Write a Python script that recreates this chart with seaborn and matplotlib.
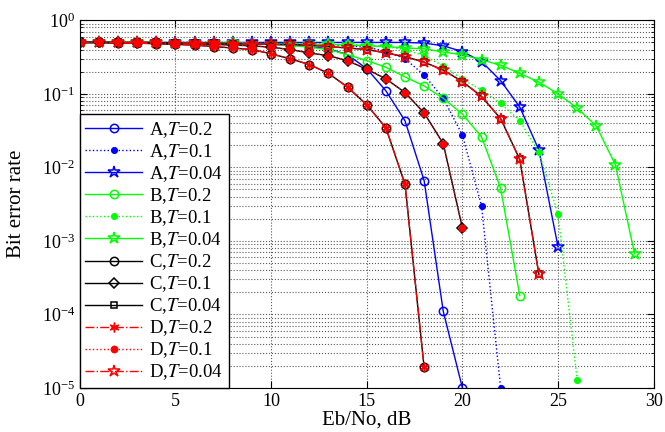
import numpy as np
import pandas as pd
import seaborn as sns
import matplotlib.pyplot as plt

plt.rcParams['font.family'] = ['Liberation Serif', 'DejaVu Serif']
plt.rcParams['mathtext.fontset'] = 'stix'
plt.rcParams['xtick.direction'] = 'in'
plt.rcParams['ytick.direction'] = 'in'

# Eb/No values (dB) and bit error rates
A_T02 = [0.5, 0.5, 0.5, 0.5, 0.5, 0.49, 0.49, 0.49, 0.48, 0.48, 0.47, 0.46, 0.44,
         0.41, 0.34, 0.22, 0.11, 0.043, 0.0066, 1.1e-4, 1e-5]
A_T01 = [0.5, 0.5, 0.5, 0.5, 0.5, 0.5, 0.5, 0.5, 0.49, 0.49, 0.49, 0.49, 0.48,
         0.47, 0.45, 0.43, 0.38, 0.30, 0.18, 0.087, 0.0275, 0.0030, 1e-5]
A_T004 = [0.5, 0.5, 0.5, 0.5, 0.5, 0.5, 0.5, 0.5, 0.5, 0.5, 0.5, 0.5, 0.5,
          0.5, 0.5, 0.5, 0.5, 0.5, 0.49, 0.45, 0.376, 0.275, 0.151, 0.066, 0.0172, 8.3e-4]
B_T02 = [0.5, 0.5, 0.5, 0.5, 0.5, 0.49, 0.49, 0.49, 0.49, 0.48, 0.47, 0.46, 0.43,
         0.40, 0.34, 0.283, 0.23, 0.17, 0.128, 0.087, 0.053, 0.026, 0.0052, 1.8e-4]
B_T01 = [0.5, 0.5, 0.5, 0.5, 0.5, 0.5, 0.5, 0.49, 0.49, 0.49, 0.48, 0.48, 0.48,
         0.47, 0.47, 0.46, 0.44, 0.40, 0.33, 0.24, 0.158, 0.113, 0.074, 0.043, 0.016,
         0.0023, 1.3e-5]
B_T004 = [0.5, 0.5, 0.5, 0.5, 0.49, 0.49, 0.49, 0.49, 0.49, 0.48, 0.48, 0.48, 0.47,
          0.47, 0.46, 0.45, 0.44, 0.42, 0.41, 0.37, 0.34, 0.29, 0.245, 0.19, 0.144,
          0.10, 0.064, 0.0365, 0.0108, 6.7e-4]
C_T02 = [0.5, 0.5, 0.49, 0.49, 0.48, 0.47, 0.46, 0.44, 0.42, 0.40, 0.35, 0.30, 0.25,
         0.19, 0.123, 0.071, 0.0345, 0.0059, 1.9e-5]
C_T01 = [0.5, 0.5, 0.5, 0.49, 0.49, 0.48, 0.48, 0.47, 0.46, 0.45, 0.43, 0.40, 0.36,
         0.33, 0.283, 0.216, 0.16, 0.104, 0.055, 0.021, 1.5e-3]
C_T004 = [0.5, 0.5, 0.5, 0.5, 0.5, 0.49, 0.49, 0.49, 0.48, 0.48, 0.47, 0.47, 0.46,
          0.44, 0.42, 0.40, 0.36, 0.32, 0.27, 0.21, 0.147, 0.092, 0.046, 0.0128, 3.5e-4]
# scheme D lies right on top of scheme C
D_T02 = list(C_T02)
D_T01 = list(C_T01)
D_T004 = list(C_T004)

# label, values, color, linestyle, marker, markersize, filled
series = [
    ('A,$T$=0.2', A_T02, 'blue', '-', 'o', 6, False),
    ('A,$T$=0.1', A_T01, 'blue', ':', 'o', 4, True),
    ('A,$T$=0.04', A_T004, 'blue', '-', '*', 9, False),
    ('B,$T$=0.2', B_T02, 'lime', '-', 'o', 6, False),
    ('B,$T$=0.1', B_T01, 'lime', ':', 'o', 4, True),
    ('B,$T$=0.04', B_T004, 'lime', '-', '*', 9, False),
    ('C,$T$=0.2', C_T02, 'black', '-', 'o', 6, False),
    ('C,$T$=0.1', C_T01, 'black', '-', 'D', 5, False),
    ('C,$T$=0.04', C_T004, 'black', '-', 's', 4, False),
    ('D,$T$=0.2', D_T02, 'red', '-.', (6, 2, 0), 7, False),
    ('D,$T$=0.1', D_T01, 'red', ':', 'o', 4.5, True),
    ('D,$T$=0.04', D_T004, 'red', '-.', '*', 9, False),
]

fig, ax = plt.subplots(figsize=(6.65, 4.32), dpi=100)
fig.subplots_adjust(left=0.12, right=0.983, top=0.953, bottom=0.102)

for label, vals, color, ls, marker, ms, filled in series:
    df = pd.DataFrame({'snr': np.arange(len(vals)), 'ber': vals})
    sns.lineplot(data=df, x='snr', y='ber', ax=ax, color=color, linestyle=ls,
                 marker=marker, markersize=ms, markeredgecolor=color,
                 markerfacecolor=color if filled else 'none', markeredgewidth=1.1,
                 linewidth=1.0, label=label, sort=False, estimator=None)

ax.set_yscale('log')
ax.set_xlim(0, 30)
ax.set_ylim(1e-5, 1)
ax.set_xticks(np.arange(0, 31, 5))
ax.tick_params(which='both', top=True, right=True, labelsize=13)
ax.tick_params(which='major', length=5)
ax.tick_params(which='minor', length=2.5)

# MATLAB style dotted grid
ax.grid(True, which='major', axis='both', linestyle=':', color='0.35', linewidth=0.8)
ax.grid(True, which='minor', axis='y', linestyle=':', color='0.35', linewidth=0.8)

ax.set_xlabel('Eb/No, dB', fontsize=15)
ax.set_ylabel('Bit error rate', fontsize=15)
ax.xaxis.set_label_coords(0.5, -0.062)
ax.yaxis.set_label_coords(-0.093, 0.5)

leg = ax.legend(loc='lower left', borderaxespad=0, fontsize=13.5, handlelength=3.0,
                labelspacing=0.12, fancybox=False, framealpha=1, edgecolor='black',
                borderpad=0.3, handletextpad=0.4)
leg.get_frame().set_linewidth(1.0)

plt.savefig('out.png', dpi=100)
